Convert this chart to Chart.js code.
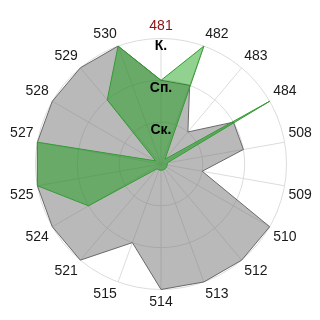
<!DOCTYPE html>
<html lang="ru">
<head>
    <meta charset="UTF-8">
    <title>Radar</title>
    <style>
        html, body {
            margin: 0;
            padding: 0;
            background: #ffffff;
        }
        #wrap {
            width: 320px;
            height: 320px;
        }
    </style>
    <script src="https://cdn.jsdelivr.net/npm/chart.js"></script>
</head>
<body>
<div id="wrap"><canvas id="radar"></canvas></div>

<script>
    // Kategorien (Achsen im Uhrzeigersinn, oben beginnend)
    const categories = ['481', '482', '483', '484', '508', '509', '510', '512', '513',
        '514', '515', '521', '524', '525', '527', '528', '529', '530'];
    // Stufen der Skala
    const levelLabels = ['', 'Ск.', 'Сп.', 'К.'];
    // graue Reihe
    const grayValues = [2, 2, 1, 2, 2, 1, 3, 3, 3, 3, 2, 3, 3, 3, 3, 3, 3, 3];
    // grüne Reihe
    const greenValues = [2, 3, 0.15, 3, 0.15, 0.15, 0.15, 0.15, 0.15, 0.15, 0.15, 0.15, 2, 3, 3, 0.15, 2, 3];

    const ctx = document.getElementById('radar').getContext('2d');
    new Chart(ctx, {
        type: 'radar',
        data: {
            labels: categories,
            datasets: [
                {
                    label: 'grau',
                    data: grayValues,
                    order: 2,
                    backgroundColor: 'rgba(120, 120, 120, 0.52)',
                    borderColor: 'rgba(105, 105, 105, 1)',
                    borderWidth: 1,
                    pointRadius: 0,
                    fill: true
                },
                {
                    label: 'grün',
                    data: greenValues,
                    order: 1,
                    backgroundColor: 'rgba(0, 150, 0, 0.43)',
                    borderColor: 'rgba(50, 155, 50, 1)',
                    borderWidth: 1,
                    pointRadius: 0,
                    fill: true
                }
            ]
        },
        options: {
            responsive: true,
            maintainAspectRatio: false,
            animation: false,
            layout: {padding: {top: 12, bottom: 3, left: 10, right: 8}},
            plugins: {
                legend: {display: false},
                tooltip: {enabled: false}
            },
            scales: {
                r: {
                    min: 0,
                    max: 3,
                    ticks: {
                        stepSize: 1,
                        z: 1,
                        showLabelBackdrop: false,
                        backdropPadding: 0,
                        color: '#000000',
                        font: {family: 'Liberation Sans', size: 14, weight: 'bold', lineHeight: 0.55},
                        // leere erste Zeile schiebt die Beschriftung unter den Ring
                        callback: (value) => ['', levelLabels[value] || '']
                    },
                    grid: {color: '#dcdcdc', lineWidth: 1, circular: true},
                    angleLines: {color: '#dcdcdc', lineWidth: 1},
                    pointLabels: {
                        font: {family: 'Liberation Sans', size: 14},
                        padding: -3,
                        color: (c) => c.index === 0 ? '#8b1111' : '#1a1a1a'
                    }
                }
            }
        }
    });
</script>
</body>
</html>
